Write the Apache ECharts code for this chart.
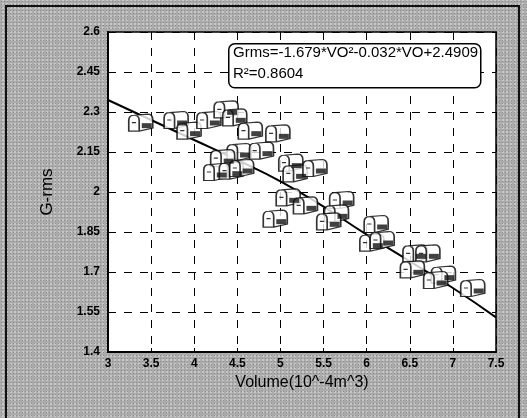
<!DOCTYPE html>
<html>
<head>
<meta charset="utf-8">
<script src="https://cdn.jsdelivr.net/npm/echarts@6/dist/echarts.min.js"></script>
<style>
html,body{margin:0;padding:0;background:#ababab;}
#wrap{position:absolute;left:0;top:0;width:527px;height:418px;background:#ababab;
  background-image:radial-gradient(#8c8c8c 0.8px, transparent 0.9px), radial-gradient(#c8c8c8 0.8px, transparent 0.9px);
  background-size:3px 3px, 4px 4px;background-position:0 0, 1px 2px;}
#frame{position:absolute;left:5px;top:5px;width:515px;height:420px;border:2px solid #111;box-sizing:border-box;}
#chart{position:absolute;left:0;top:0;width:527px;height:418px;}
</style>
</head>
<body>
<div id="wrap"><div id="frame"></div><div id="chart"></div></div>
<script>
// Data
const volume = [3.38,3.79,3.94,4.17,4.37,4.47,4.65,4.97,4.52,4.78,4.33,4.25,4.43,4.55,5.12,5.17,5.40,5.09,5.29,4.94,5.71,5.65,5.56,6.11,6.06,6.18,6.56,6.71,6.53,6.89,6.80,7.23];
const grms   = [2.26,2.27,2.23,2.27,2.31,2.28,2.23,2.22,2.15,2.155,2.127,2.075,2.08,2.09,2.11,2.07,2.09,1.98,1.95,1.90,1.97,1.92,1.89,1.88,1.81,1.82,1.77,1.77,1.71,1.69,1.67,1.64];
const trendX = [3,3.5,4,4.5,5,5.5,6,6.5,7,7.5];
const trendY = [2.345,2.27,2.195,2.12,2.04,1.945,1.84,1.74,1.64,1.53];
const xTicks = [3,3.5,4,4.5,5,5.5,6,6.5,7,7.5];
const yTicks = [1.4,1.55,1.7,1.85,2,2.15,2.3,2.45,2.6];
const eqLine1 = 'Grms=-1.679*VO²-0.032*VO+2.4909';
const eqLine2 = 'R²=0.8604';
const xTitle = 'Volume(10^-4m^3)';
const yTitle = 'G-rms';

const pts = volume.map((v,i)=>[v,grms[i]]);
const trend = trendX.map((v,i)=>[v,trendY[i]]);

const mailbox = 'path://M0 16 L0 6 Q0 1 5 1 L18 0 Q23 0 23 5 L23 13 L10 16 Z M0 16 L0 6 Q0 1 5 1 Q10 1 10 6 L10 16 Z M3 8 L7 8';

const chart = echarts.init(document.getElementById('chart'), null, {renderer:'canvas'});
const font = 'Liberation Sans, Arial, sans-serif';
chart.setOption({
  animation:false,
  backgroundColor:'transparent',
  grid:{left:108,right:31,top:32,bottom:66,show:true,backgroundColor:'#fff',borderColor:'#000',borderWidth:1.5},
  xAxis:{type:'value',min:xTicks[0],max:xTicks[xTicks.length-1],interval:0.5,
    axisLine:{show:true,lineStyle:{color:'#000',width:2}},
    axisTick:{show:true,inside:true,length:4,lineStyle:{color:'#000'}},
    axisLabel:{color:'#000',fontFamily:font,fontSize:12,fontWeight:'bold',margin:6,formatter:v=>String(+v.toFixed(2))},
    splitLine:{show:true,lineStyle:{color:'#000',type:[8,8],width:1}},
    name:xTitle,nameLocation:'middle',nameGap:23,
    nameTextStyle:{color:'#000',fontFamily:font,fontSize:16}
  },
  yAxis:{type:'value',min:yTicks[0],max:yTicks[yTicks.length-1],interval:0.15,
    axisLine:{show:true,lineStyle:{color:'#000',width:2}},
    axisTick:{show:true,inside:true,length:4,lineStyle:{color:'#000'}},
    axisLabel:{color:'#000',fontFamily:font,fontSize:12,fontWeight:'bold',margin:8,formatter:v=>String(+v.toFixed(2))},
    splitLine:{show:true,lineStyle:{color:'#000',type:[8,8],width:1}},
    name:yTitle,nameLocation:'middle',nameGap:52,
    nameTextStyle:{color:'#000',fontFamily:font,fontSize:17}
  },
  series:[
    {type:'line',data:trend,smooth:true,showSymbol:false,symbol:'none',lineStyle:{color:'#000',width:2},z:2},
    {type:'scatter',data:pts,symbol:mailbox,symbolSize:[24,17],symbolKeepAspect:false,
     itemStyle:{color:'#fff',borderColor:'#000',borderWidth:1.4},z:3},
    {type:'scatter',data:pts,symbol:'rect',symbolSize:[10,5],symbolOffset:[6,3],
     itemStyle:{color:'#111'},z:4}
  ],
  graphic:[
    {type:'rect',left:228,top:43,shape:{width:252,height:44,r:6},style:{fill:'#fff',stroke:'#000',lineWidth:1.5},z:10},
    {type:'text',left:233,top:45,style:{text:eqLine1,font:'15px '+font,fill:'#000'},z:11},
    {type:'text',left:233,top:66,style:{text:eqLine2,font:'15px '+font,fill:'#000'},z:11}
  ]
});
</script>
</body>
</html>
